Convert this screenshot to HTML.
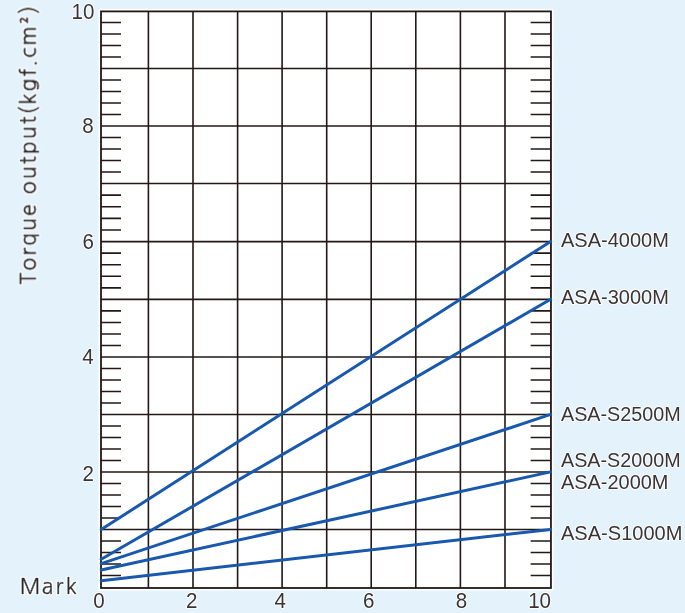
<!DOCTYPE html>
<html><head><meta charset="utf-8"><style>
html,body{margin:0;padding:0;}
body{width:685px;height:613px;background:#e4f2fc;position:relative;overflow:hidden;}
svg{position:absolute;left:0;top:0;will-change:transform;}
text{paint-order:stroke;stroke:#fff;stroke-width:2px;stroke-linejoin:round;}
.n text{font-family:"Liberation Sans",Arial,sans-serif;font-size:21.2px;fill:#3a3433;}
.lab text{font-family:"Liberation Sans",Arial,sans-serif;font-size:21px;fill:#3a3433;}
.h{font-family:"NanumGothic","Liberation Sans",sans-serif;font-size:21.3px;fill:#2c2829;stroke:#2c2829;stroke-width:0.6px;paint-order:normal;}
</style></head><body>
<svg width="685" height="613" viewBox="0 0 685 613">
<defs><filter id="halo" x="-20%" y="-20%" width="140%" height="140%"><feMorphology in="SourceAlpha" operator="dilate" radius="1.3" result="d"/><feGaussianBlur in="d" stdDeviation="0.4" result="b"/><feFlood flood-color="#fff"/><feComposite in2="b" operator="in" result="h"/><feMerge><feMergeNode in="h"/><feMergeNode in="SourceGraphic"/></feMerge></filter></defs>
<rect x="98.5" y="8.9" width="454.95000000000005" height="581.6" fill="#fff"/>
<path fill="none" stroke="#231815" stroke-width="1.6" d="M148.40 11.40V588.00M193.00 11.40V588.00M237.60 11.40V588.00M282.10 11.40V588.00M326.70 11.40V588.00M371.20 11.40V588.00M415.80 11.40V588.00M460.40 11.40V588.00M505.00 11.40V588.00M101.00 529.50H550.95M101.00 472.00H550.95M101.00 414.50H550.95M101.00 357.00H550.95M101.00 299.40H550.95M101.00 241.60H550.95M101.00 183.50H550.95M101.00 126.00H550.95M101.00 68.45H550.95M101.00 541.00H121.00M530.65 541.00H550.95M101.00 552.50H121.00M530.65 552.50H550.95M101.00 564.00H121.00M530.65 564.00H550.95M101.00 575.50H121.00M530.65 575.50H550.95M101.00 518.00H121.00M530.65 518.00H550.95M101.00 506.50H121.00M530.65 506.50H550.95M101.00 495.00H121.00M530.65 495.00H550.95M101.00 483.50H121.00M530.65 483.50H550.95M101.00 460.50H121.00M530.65 460.50H550.95M101.00 449.00H121.00M530.65 449.00H550.95M101.00 437.50H121.00M530.65 437.50H550.95M101.00 426.00H121.00M530.65 426.00H550.95M101.00 403.00H121.00M530.65 403.00H550.95M101.00 391.50H121.00M530.65 391.50H550.95M101.00 380.00H121.00M530.65 380.00H550.95M101.00 368.50H121.00M530.65 368.50H550.95M101.00 345.48H121.00M530.65 345.48H550.95M101.00 333.96H121.00M530.65 333.96H550.95M101.00 322.44H121.00M530.65 322.44H550.95M101.00 310.92H121.00M530.65 310.92H550.95M101.00 287.84H121.00M530.65 287.84H550.95M101.00 276.28H121.00M530.65 276.28H550.95M101.00 264.72H121.00M530.65 264.72H550.95M101.00 253.16H121.00M530.65 253.16H550.95M101.00 229.98H121.00M530.65 229.98H550.95M101.00 218.36H121.00M530.65 218.36H550.95M101.00 206.74H121.00M530.65 206.74H550.95M101.00 195.12H121.00M530.65 195.12H550.95M101.00 172.00H121.00M530.65 172.00H550.95M101.00 160.50H121.00M530.65 160.50H550.95M101.00 149.00H121.00M530.65 149.00H550.95M101.00 137.50H121.00M530.65 137.50H550.95M101.00 114.49H121.00M530.65 114.49H550.95M101.00 102.98H121.00M530.65 102.98H550.95M101.00 91.47H121.00M530.65 91.47H550.95M101.00 79.96H121.00M530.65 79.96H550.95M101.00 56.95H121.00M530.65 56.95H550.95M101.00 45.45H121.00M530.65 45.45H550.95M101.00 33.95H121.00M530.65 33.95H550.95M101.00 22.45H121.00M530.65 22.45H550.95"/>
<rect x="101.0" y="11.4" width="449.95000000000005" height="576.6" fill="none" stroke="#231815" stroke-width="1.8"/>
<path fill="none" stroke="#1858ad" stroke-width="3" stroke-linecap="round" d="M101.2 529.5L550.6500000000001 241.4M101.2 559.3L550.6500000000001 299.3M101.2 563.7L550.6500000000001 414.4M101.2 570.0L550.6500000000001 471.9M101.2 580.7L550.6500000000001 529.4"/>
<g class="n"><text transform="translate(71.52,18.55) scale(0.97,1)">10</text><text transform="translate(82.36,132.65) scale(0.97,1)">8</text><text transform="translate(82.56,249.40) scale(0.97,1)">6</text><text transform="translate(82.18,363.83) scale(0.97,1)">4</text><text transform="translate(82.51,480.88) scale(0.97,1)">2</text><text transform="translate(93.16,607.95) scale(0.97,1)">0</text><text transform="translate(185.89,607.98) scale(0.97,1)">2</text><text transform="translate(274.48,608.18) scale(0.97,1)">4</text><text transform="translate(362.96,607.95) scale(0.97,1)">6</text><text transform="translate(455.76,607.95) scale(0.97,1)">8</text><text transform="translate(528.17,607.95) scale(0.97,1)">10</text></g>
<g class="lab"><text transform="translate(561.00,246.55) scale(0.9527,1)">ASA-4000M</text><text transform="translate(561.00,303.95) scale(0.9527,1)">ASA-3000M</text><text transform="translate(561.00,420.55) scale(0.9419,1)">ASA-S2500M</text><text transform="translate(561.00,466.65) scale(0.9403,1)">ASA-S2000M</text><text transform="translate(561.00,488.75) scale(0.9491,1)">ASA-2000M</text><text transform="translate(561.00,539.75) scale(0.9554,1)">ASA-S1000M</text></g>
<g filter="url(#halo)"><text class="h" x="19.7 41.85 55.38 65.85" y="593.7">Mark</text>
<text class="h" transform="translate(35.8,284.45) rotate(-90)" letter-spacing="2.1" style="stroke-width:0.9px">Torque output(kgf.cm²)</text></g>
</svg>
</body></html>
